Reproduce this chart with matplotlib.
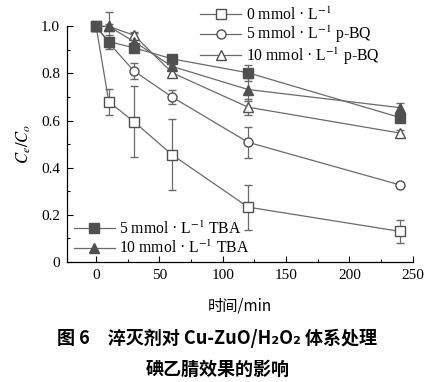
import matplotlib
matplotlib.use("Agg")
import matplotlib.pyplot as plt
from matplotlib.lines import Line2D

plt.rcParams["font.family"] = ["Liberation Serif", "Noto Sans CJK SC", "DejaVu Sans"]
plt.rcParams["mathtext.fontset"] = "stix"

t = [0, 10, 30, 60, 120, 240]

c_blank = [1.0, 0.68, 0.595, 0.455, 0.233, 0.13]
e_blank = [0.0, 0.055, 0.15, 0.15, 0.095, 0.05]
c_bq5 = [1.0, 0.93, 0.81, 0.70, 0.508, 0.327]
e_bq5 = [0.0, 0.01, 0.035, 0.03, 0.065, 0.008]
c_bq10 = [1.0, 1.0, 0.962, 0.803, 0.657, 0.547]
e_bq10 = [0.0, 0.01, 0.01, 0.015, 0.035, 0.015]
c_tba5 = [1.0, 0.935, 0.909, 0.862, 0.803, 0.613]
e_tba5 = [0.0, 0.03, 0.01, 0.01, 0.035, 0.01]
c_tba10 = [1.0, 1.0, 0.935, 0.83, 0.732, 0.655]
e_tba10 = [0.0, 0.06, 0.04, 0.01, 0.05, 0.02]

labels = [
    r"0 mmol · L$^{-1}$",
    r"5 mmol · L$^{-1}$ p-BQ",
    r"10 mmol · L$^{-1}$ p-BQ",
    r"5 mmol · L$^{-1}$ TBA",
    r"10 mmol · L$^{-1}$ TBA",
]

fig = plt.figure(figsize=(4.35, 3.82), dpi=100)
ax = fig.add_axes([0.154, 0.314, 0.795, 0.617])

lc = "#6a6a6a"
mc = "#505050"
series = [
    (c_blank, e_blank, "s", "white"),
    (c_bq5, e_bq5, "o", "white"),
    (c_bq10, e_bq10, "^", "white"),
    (c_tba5, e_tba5, "s", mc),
    (c_tba10, e_tba10, "^", mc),
]
handles = []
for (c, e, m, fc), lab in zip(series, labels):
    style = dict(marker=m, ms=6.5, mfc=fc, mec=mc, mew=1.0, color=lc, lw=0.9)
    ax.errorbar(t, c, yerr=e, ecolor=lc, elinewidth=0.9, capsize=3,
                capthick=0.9, clip_on=False, **style)
    handles.append(Line2D([], [], **style))

ax.set_xlim(-23, 250)
ax.set_ylim(0, 1.0)
ax.set_xticks([0, 50, 100, 150, 200, 250])
ax.set_yticks([0, 0.2, 0.4, 0.6, 0.8, 1.0])
ax.set_yticklabels(["0", "0.2", "0.4", "0.6", "0.8", "1.0"])
ax.set_xticks([25, 75, 125, 175, 225], minor=True)
ax.set_yticks([0.1, 0.3, 0.5, 0.7, 0.9], minor=True)
ax.tick_params(direction="in", length=4, width=0.8, labelsize=11, pad=5)
ax.tick_params(which="minor", direction="in", length=2.5, width=0.8)
for s in ["top", "right"]:
    ax.spines[s].set_visible(False)
for s in ["left", "bottom"]:
    ax.spines[s].set_linewidth(0.9)

ax.set_ylabel(r"$C_e/C_o$", fontsize=12, labelpad=6)
ax.set_xlabel("时间/min", fontsize=11, family=["Noto Sans CJK SC"], labelpad=11)

leg_kw = dict(frameon=False, fontsize=11.3, handlelength=2.6, handletextpad=0.3,
              borderaxespad=0, borderpad=0)
leg1 = ax.legend(handles[:3], labels[:3], loc="upper left", labelspacing=0.02,
                 bbox_to_anchor=(0.385, 1.085), **leg_kw)
ax.add_artist(leg1)
ax.legend(handles[3:], labels[3:], loc="lower left", labelspacing=0.15,
          bbox_to_anchor=(0.02, 0.02), **leg_kw)

cap_font = ["Noto Sans CJK SC", "DejaVu Sans"]
fig.text(0.5, 0.113, "图 6　淬灭剂对 Cu-ZuO/H₂O₂ 体系处理", ha="center", va="center",
         fontsize=13, fontweight="bold", family=cap_font)
fig.text(0.5, 0.033, "碘乙腈效果的影响", ha="center", va="center",
         fontsize=13, fontweight="bold", family=cap_font)

fig.savefig("out.png", dpi=100)
